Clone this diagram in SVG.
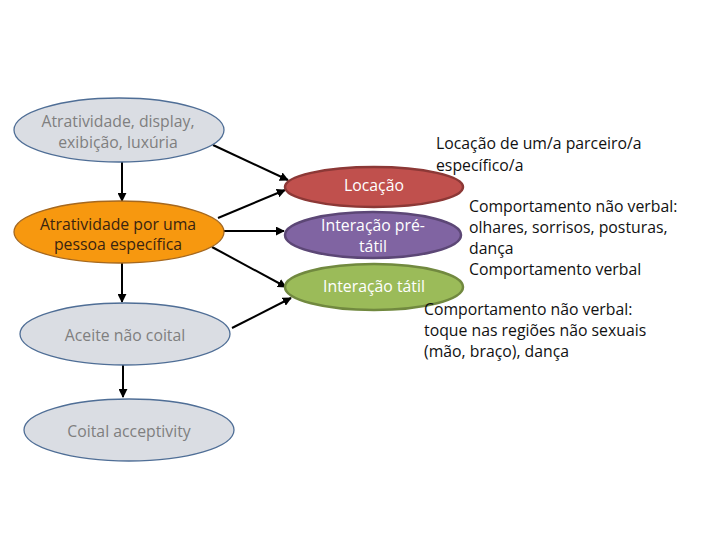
<svg xmlns="http://www.w3.org/2000/svg" width="720" height="540" viewBox="0 0 720 540">
<style>
text{font-family:"Open Sans","Liberation Sans",sans-serif;font-size:15.8px}
.c{text-anchor:middle}
.g{fill:#7f7f7f}
.w{fill:#ffffff}
.k{fill:#111111}
.ln{stroke:#000;stroke-width:2;fill:none;marker-end:url(#ah)}
</style>
<defs>
<marker id="ah" viewBox="0 0 10 10" refX="9" refY="5" markerWidth="4.5" markerHeight="4.5" orient="auto"><path d="M0,0L10,5L0,10z" fill="#000"/></marker>
</defs>
<rect width="720" height="540" fill="#fff"/>
<g id="connectors">
<line class="ln" x1="122" y1="162" x2="122" y2="201"/>
<line class="ln" x1="122" y1="263" x2="122" y2="302"/>
<line class="ln" x1="123" y1="365" x2="123" y2="397"/>
<line class="ln" x1="213" y1="145" x2="288" y2="180"/>
<line class="ln" x1="218" y1="218" x2="285" y2="190"/>
<line class="ln" x1="223" y1="231" x2="284" y2="231"/>
<line class="ln" x1="212" y1="247" x2="286" y2="287"/>
<line class="ln" x1="232" y1="328" x2="291" y2="298"/>
</g>
<g id="n1"><ellipse cx="119" cy="130" rx="105" ry="32" fill="#dadde3" stroke="#4f6e96" stroke-width="1.3"/>
<text class="c g" x="118" y="127">Atratividade, display,</text><text class="c g" x="118" y="148">exibição, luxúria</text></g>
<g id="n2"><ellipse cx="119" cy="232" rx="105" ry="31" fill="#f7980f" stroke="#a5681f" stroke-width="1.3"/>
<text class="c" fill="#3a2410" x="118" y="230">Atratividade por uma</text><text class="c" fill="#3a2410" x="118" y="250">pessoa específica</text></g>
<g id="n3"><ellipse cx="125" cy="334" rx="105" ry="31" fill="#dadde3" stroke="#4f6e96" stroke-width="1.3"/>
<text class="c g" x="125" y="341">Aceite não coital</text></g>
<g id="n4"><ellipse cx="129" cy="430" rx="105" ry="31" fill="#dadde3" stroke="#4f6e96" stroke-width="1.3"/>
<text class="c g" x="129" y="437">Coital acceptivity</text></g>
<g id="n5"><ellipse cx="374" cy="187" rx="89" ry="20" fill="#c0504d" stroke="#8c3836" stroke-width="2.5"/>
<text class="c w" x="374" y="191">Locação</text></g>
<g id="n6"><ellipse cx="373" cy="235" rx="88" ry="23" fill="#8064a2" stroke="#5c4776" stroke-width="2.5"/>
<text class="c w" x="373" y="231">Interação pré-</text><text class="c w" x="373" y="252">tátil</text></g>
<g id="n7"><ellipse cx="374" cy="287" rx="89" ry="23" fill="#9bbb59" stroke="#71893f" stroke-width="2.5"/>
<text class="c w" x="374" y="292">Interação tátil</text></g>
<g id="labels">
<text class="k" x="436" y="149">Locação de um/a parceiro/a</text>
<text class="k" x="436" y="171">específico/a</text>
<text class="k" x="469" y="212">Comportamento não verbal:</text>
<text class="k" x="469" y="233">olhares, sorrisos, posturas,</text>
<text class="k" x="469" y="254">dança</text>
<text class="k" x="469" y="275">Comportamento verbal</text>
<text class="k" x="424" y="315">Comportamento não verbal:</text>
<text class="k" x="424" y="336">toque nas regiões não sexuais</text>
<text class="k" x="424" y="357">(mão, braço), dança</text>
</g>
</svg>
